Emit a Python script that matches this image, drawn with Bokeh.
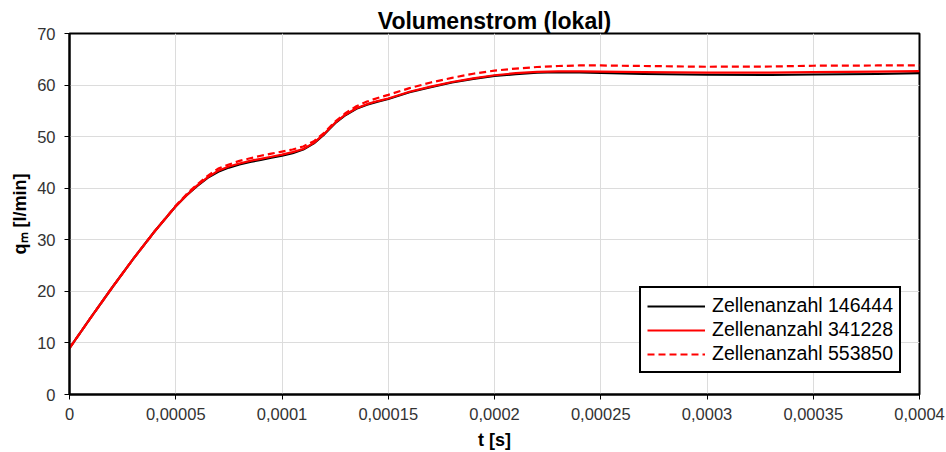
from bokeh.plotting import figure
from bokeh.models import FixedTicker, CustomJSTickFormatter, Legend, LegendItem, Range1d
from bokeh.embed import file_html
from bokeh.resources import INLINE

# time [s]
t = [0, 0.00001, 0.00002, 0.00003, 0.00004, 0.00005, 0.000055, 0.00006, 0.000065,
     0.00007, 0.000075, 0.00008, 0.000085, 0.00009, 0.000095, 0.0001, 0.000105,
     0.00011, 0.000115, 0.00012, 0.000125, 0.00013, 0.000135, 0.00014, 0.000145,
     0.00015, 0.00016, 0.00017, 0.00018, 0.00019, 0.0002, 0.00021, 0.00022,
     0.00023, 0.00024, 0.00025, 0.00027, 0.0003, 0.00033, 0.00035, 0.00038, 0.0004]

# volume flow q_m [l/min]
q_146444 = [9.0, 14.9, 20.7, 26.3, 31.6, 36.5, 38.6, 40.4, 42.0, 43.2, 44.0, 44.6,
            45.1, 45.5, 45.9, 46.3, 46.8, 47.5, 48.7, 50.5, 52.6, 54.2, 55.4, 56.2,
            56.8, 57.3, 58.6, 59.6, 60.5, 61.2, 61.8, 62.1, 62.4, 62.5, 62.45, 62.35,
            62.15, 62.0, 61.95, 62.05, 62.15, 62.3]
q_341228 = [9.0, 14.9, 20.7, 26.3, 31.6, 36.5, 38.6, 40.5, 42.1, 43.4, 44.2, 44.8,
            45.3, 45.7, 46.1, 46.5, 47.0, 47.6, 48.8, 50.6, 52.7, 54.3, 55.5, 56.3,
            56.9, 57.4, 58.7, 59.7, 60.6, 61.3, 61.9, 62.3, 62.55, 62.65, 62.65, 62.6,
            62.5, 62.4, 62.4, 62.5, 62.6, 62.7]
q_553850 = [9.0, 14.9, 20.7, 26.3, 31.6, 36.6, 38.8, 40.7, 42.4, 43.8, 44.6, 45.3,
            45.8, 46.3, 46.7, 47.1, 47.5, 48.1, 49.1, 50.8, 52.9, 54.6, 55.9, 56.8,
            57.5, 58.1, 59.4, 60.5, 61.4, 62.2, 62.8, 63.2, 63.5, 63.7, 63.8, 63.8,
            63.7, 63.55, 63.6, 63.75, 63.8, 63.8]

series_labels = ["Zellenanzahl 146444", "Zellenanzahl 341228", "Zellenanzahl 553850"]
x_ticks = [0, 0.00005, 0.0001, 0.00015, 0.0002, 0.00025, 0.0003, 0.00035, 0.0004]
y_ticks = [0, 10, 20, 30, 40, 50, 60, 70]

FONT = "Liberation Sans"

p = figure(width=946, height=452, output_backend="svg", toolbar_location=None,
           x_range=Range1d(0, 0.0004), y_range=Range1d(0, 70),
           min_border_left=69, min_border_right=27, min_border_top=33, min_border_bottom=57)

p.title.text = "Volumenstrom (lokal)"
p.title.align = "center"
p.title.text_font = FONT
p.title.text_font_size = "23px"
p.title.text_font_style = "bold"
p.title.text_color = "black"
p.title.offset = 12
p.title.standoff = 0

p.background_fill_color = "white"
p.border_fill_color = "white"
p.outline_line_color = "black"
p.outline_line_width = 2
p.outline_line_alpha = 1

r1 = p.line(t, q_146444, line_color="black", line_width=2.2, line_join="round")
r2 = p.line(t, q_341228, line_color="#ff0000", line_width=2.2, line_join="round")
r3 = p.line(t, q_553850, line_color="#ff0000", line_width=2.2, line_dash="7 4",
            line_join="round")

p.xaxis.ticker = FixedTicker(ticks=x_ticks)
p.yaxis.ticker = FixedTicker(ticks=y_ticks)
p.xaxis.formatter = CustomJSTickFormatter(code="""
    let s = tick.toFixed(5).replace(/0+$/, '').replace(/\\.$/, '');
    return s.replace('.', ',');
""")

for ax in (p.xaxis[0], p.yaxis[0]):
    ax.axis_line_color = "black"
    ax.axis_line_width = 2
    ax.major_tick_line_color = "black"
    ax.major_tick_line_width = 1
    ax.major_tick_out = 5
    ax.major_tick_in = 0
    ax.minor_tick_out = 0
    ax.minor_tick_in = 0
    ax.major_label_text_font = FONT
    ax.major_label_text_font_size = "16.5px"
    ax.major_label_text_color = "#333333"
    ax.axis_label_text_font = FONT
    ax.axis_label_text_font_size = "18px"
    ax.axis_label_text_font_style = "bold"
    ax.axis_label_text_color = "black"

p.xaxis.axis_label = "t [s]"
p.yaxis.axis_label = "q\u2098 [l/min]"
p.xaxis.major_label_standoff = 8
p.yaxis.major_label_standoff = 9
p.xaxis.axis_label_standoff = 7
p.yaxis.axis_label_standoff = 4

p.xgrid.grid_line_color = "#dcdcdc"
p.ygrid.grid_line_color = "#dcdcdc"
p.xgrid.grid_line_width = 1
p.ygrid.grid_line_width = 1

legend = Legend(items=[LegendItem(label=series_labels[0], renderers=[r1]),
                       LegendItem(label=series_labels[1], renderers=[r2]),
                       LegendItem(label=series_labels[2], renderers=[r3])],
                location=(570, 21))
legend.border_line_color = "black"
legend.border_line_width = 2
legend.border_line_alpha = 1
legend.background_fill_color = "white"
legend.background_fill_alpha = 1
legend.label_text_font = FONT
legend.label_text_font_size = "19.5px"
legend.label_text_color = "black"
legend.glyph_width = 58
legend.glyph_height = 22
legend.label_height = 22
legend.spacing = 1
legend.padding = 6
legend.margin = 0
legend.label_standoff = 7
p.add_layout(legend)

open("out.html", "w").write(file_html(p, INLINE))
